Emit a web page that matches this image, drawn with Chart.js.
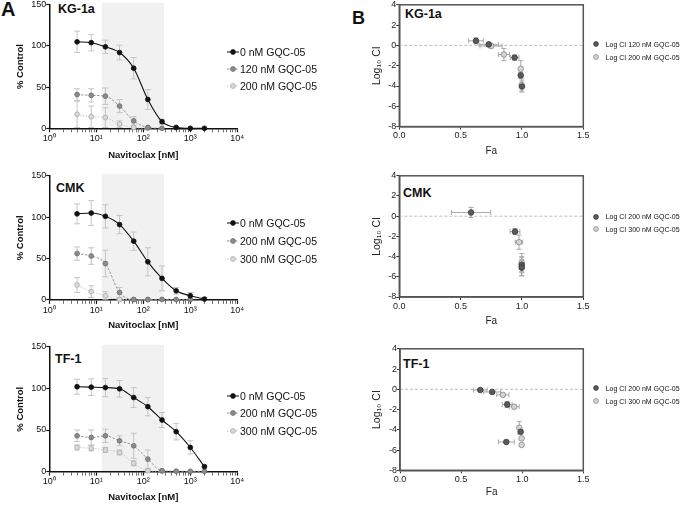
<!DOCTYPE html>
<html>
<head>
<meta charset="utf-8">
<script src="https://cdn.jsdelivr.net/npm/chart.js@4.4.0/dist/chart.umd.min.js"></script>
<style>
  body { margin: 0; width: 685px; height: 506px; background: #fff; position: relative; overflow: hidden;
         font-family: "Liberation Sans", Arial, sans-serif; color: #111; }
  canvas, .txt, .leg { position: absolute; }
  .txt { font-weight: bold; line-height: 1; white-space: nowrap; }
  .leg { display: flex; align-items: center; height: 12px; white-space: nowrap; }
  .leg svg { display: block; }
</style>
</head>
<body>
<div class="txt" style="left:1px;top:-1px;font-size:20px">A</div>
<div class="txt" style="left:352px;top:9px;font-size:18px">B</div>
<div class="txt" style="left:58px;top:3px;font-size:12.5px">KG-1a</div>
<div class="txt" style="left:56px;top:182px;font-size:12.5px">CMK</div>
<div class="txt" style="left:55px;top:353px;font-size:12.5px">TF-1</div>
<div class="txt" style="left:405px;top:8px;font-size:12.5px">KG-1a</div>
<div class="txt" style="left:403px;top:187px;font-size:12.5px">CMK</div>
<div class="txt" style="left:403px;top:358px;font-size:12.5px">TF-1</div>

<canvas id="doseKg"></canvas>
<canvas id="doseCmk"></canvas>
<canvas id="doseTf"></canvas>
<canvas id="ciKg"></canvas>
<canvas id="ciCmk"></canvas>
<canvas id="ciTf"></canvas>

<script>
// ---- A: dose response, % of control (mean, error = SD) ----
const doses = [3.9, 7.8, 15.6, 31.25, 62.5, 125, 250, 500, 1000, 2000];
const xDecades = [1, 10, 100, 1000, 10000];
const shadeRange = [13, 275];

const kgLabels = ['0 nM GQC-05', '120 nM GQC-05', '200 nM GQC-05'];
const kg0 = [105, 104, 99, 92, 73, 35, 8, 1, 0, 0];
const kg0Err = [13, 10, 8, 9, 13, 12, 3, 1, 0, 0];
const kg120 = [41, 40, 39, 27, 9, 1, 0];
const kg120Err = [7, 8, 10, 8, 5, 1, 0];
const kg200 = [17, 14, 13, 5, 1, 0];
const kg200Err = [16, 13, 12, 4, 1, 0];

const cmkLabels = ['0 nM GQC-05', '200 nM GQC-05', '300 nM GQC-05'];
const cmk0 = [104, 105, 101, 91, 71, 46, 26, 11, 5, 1];
const cmk0Err = [12, 15, 14, 11, 11, 17, 15, 4, 4, 2];
const cmk200 = [56, 53, 44, 9, 0.5, 0.5, 0.5, 0.5, 0.5];
const cmk200Err = [8, 10, 16, 6, 1, 0, 0, 0, 0];
const cmk300 = [18, 10, 5, 0.5, 0.3, 0.3];
const cmk300Err = [9, 7, 5, 1, 0, 0];

const tfLabels = ['0 nM GQC-05', '200 nM GQC-05', '300 nM GQC-05'];
const tf0 = [102, 101.5, 101, 99.5, 89, 78, 62, 48, 29, 6];
const tf0Err = [9, 10, 11, 10, 12, 11, 9, 10, 8, 2];
const tf200 = [43, 41, 43, 37, 31, 15, 1, 0.5, 0.3, 0.3];
const tf200Err = [7, 9, 8, 6, 15, 11, 1, 0, 0, 0];
const tf300 = [29, 28, 26, 23, 10, 1, 0.5];
const tf300Err = [3, 3, 3, 3, 3, 1, 0];

// ---- B: combination index (Fa vs log10 CI) ----
const kgCiLabels = ['Log CI 120 nM GQC-05', 'Log CI 200 nM GQC-05'];
const kgFa120 = [0.625, 0.729, 0.94, 0.99, 1.0];
const kgFa120Err = [0.06, 0.08, 0.035, 0.005, 0.004];
const kgCi120 = [0.45, 0.1, -1.2, -2.95, -4.05];
const kgCi120Err = [0.3, 0.2, 0.25, 0.3, 0.55];
const kgFa200 = [0.748, 0.853, 0.99, 0.997];
const kgFa200Err = [0.09, 0.045, 0.01, 0.004];
const kgCi200 = [-0.06, -0.9, -2.3, -3.9];
const kgCi200Err = [0.2, 0.6, 0.8, 0.6];

const cmkCiLabels = ['Log CI 200 nM GQC-05', 'Log CI 300 nM GQC-05'];
const cmkFa200 = [0.585, 0.943, 0.998, 0.998];
const cmkFa200Err = [0.16, 0.04, 0.008, 0.008];
const cmkCi200 = [0.37, -1.53, -4.8, -5.1];
const cmkCi200Err = [0.5, 0.3, 0.8, 0.8];
const cmkFa300 = [0.976, 0.998, 0.998];
const cmkFa300Err = [0.03, 0.008, 0.008];
const cmkCi300 = [-2.57, -4.6, -5.0];
const cmkCi300Err = [0.7, 0.9, 0.9];

const tfCiLabels = ['Log CI 200 nM GQC-05', 'Log CI 300 nM GQC-05'];
const tfFa200 = [0.657, 0.755, 0.877, 0.987, 0.87];
const tfFa200Err = [0.055, 0.07, 0.04, 0.01, 0.065];
const tfCi200 = [-0.07, -0.26, -1.5, -4.2, -5.2];
const tfCi200Err = [0.15, 0.15, 0.3, 0.2, 0.1];
const tfFa300 = [0.842, 0.935, 0.976, 0.995, 0.995];
const tfFa300Err = [0.05, 0.04, 0.01, 0.005, 0.005];
const tfCi300 = [-0.55, -1.72, -3.8, -4.85, -5.5];
const tfCi300Err = [0.15, 0.2, 0.6, 0.1, 0.1];

Chart.defaults.font.family = '"Liberation Sans", Arial, sans-serif';
Chart.defaults.color = '#111';
Chart.defaults.animation = false;

// styles: solid black / dashed mid gray / dotted light gray
const doseStyles = [
  { line: '#111', dash: [], width: 1.1, fill: '#111', border: '#111' },
  { line: '#8c8c8c', dash: [2.5, 1.5], width: 0.9, fill: '#8c8c8c', border: '#6a6a6a' },
  { line: '#c4c4c4', dash: [1.5, 1.5], width: 0.9, fill: '#dadada', border: '#a8a8a8' }
];
const ciStyles = [
  { fill: '#5a5a5a', border: '#3a3a3a' },
  { fill: '#d4d4d4', border: '#8a8a8a' }
];

const SUP = ['⁰', '¹', '²', '³', '⁴'];

// shaded concentration window behind the dose curves
const shadeBand = {
  id: 'shadeBand',
  beforeDraw(chart, args, opts) {
    if (!opts.range) return;
    const { ctx, chartArea: a, scales: { x } } = chart;
    const x0 = x.getPixelForValue(opts.range[0]);
    const x1 = x.getPixelForValue(opts.range[1]);
    ctx.save();
    ctx.fillStyle = opts.color;
    ctx.fillRect(x0, a.top - 2, x1 - x0, a.bottom - a.top + 2);
    ctx.restore();
  }
};

// box + dashed reference line for the CI plots
const ciFrame = {
  id: 'ciFrame',
  beforeDatasetsDraw(chart, args, opts) {
    const { ctx, chartArea: a, scales: { y } } = chart;
    const y0 = y.getPixelForValue(opts.refValue);
    ctx.save();
    ctx.strokeStyle = opts.refColor;
    ctx.lineWidth = 1;
    ctx.setLineDash([3, 2]);
    ctx.beginPath(); ctx.moveTo(a.left, y0); ctx.lineTo(a.right, y0); ctx.stroke();
    ctx.setLineDash([]);
    ctx.strokeStyle = opts.color;
    ctx.lineWidth = 1.5;
    ctx.strokeRect(a.left, a.top, a.right - a.left, a.bottom - a.top);
    ctx.restore();
  }
};

// x/y error bars read from dataset.xErr / dataset.yErr
const errorBars = {
  id: 'errorBars',
  beforeDatasetsDraw(chart, args, opts) {
    const { ctx, chartArea: a, scales: { x, y } } = chart;
    const cap = opts.cap;
    ctx.save();
    ctx.beginPath();
    ctx.rect(a.left - 6, a.top - 6, a.right - a.left + 12, a.bottom - a.top + 6);
    ctx.clip();
    ctx.strokeStyle = opts.color;
    ctx.lineWidth = 1;
    chart.data.datasets.forEach(ds => {
      ds.data.forEach((p, j) => {
        const px = x.getPixelForValue(p.x), py = y.getPixelForValue(p.y);
        const ye = ds.yErr ? ds.yErr[j] : 0;
        const xe = ds.xErr ? ds.xErr[j] : 0;
        ctx.beginPath();
        if (ye) {
          const t = y.getPixelForValue(p.y + ye), b = y.getPixelForValue(p.y - ye);
          ctx.moveTo(px, t); ctx.lineTo(px, b);
          ctx.moveTo(px - cap, t); ctx.lineTo(px + cap, t);
          ctx.moveTo(px - cap, b); ctx.lineTo(px + cap, b);
        }
        if (xe) {
          const l = x.getPixelForValue(p.x - xe), r = x.getPixelForValue(p.x + xe);
          ctx.moveTo(l, py); ctx.lineTo(r, py);
          ctx.moveTo(l, py - cap); ctx.lineTo(l, py + cap);
          ctx.moveTo(r, py - cap); ctx.lineTo(r, py + cap);
        }
        ctx.stroke();
      });
    });
    ctx.restore();
  }
};

function place(id, left, top, w, h) {
  const c = document.getElementById(id);
  c.width = w; c.height = h;
  c.style.left = left + 'px';
  c.style.top = top + 'px';
  return c;
}

// pin an axis box to a fixed size so the plot area lands where the figure has it
function fixedAxis(size) {
  return scale => {
    if (scale.isHorizontal()) scale.height = size; else scale.width = size;
    scale.paddingTop = scale.paddingBottom = scale.paddingLeft = scale.paddingRight = 0;
  };
}

function isDecade(v) {
  const e = Math.log10(v);
  return Math.abs(e - Math.round(e)) < 1e-6;
}

function addLegend(x, rows, labels, swatch, fontSize, gap) {
  labels.forEach((label, i) => {
    const d = document.createElement('div');
    d.className = 'leg';
    d.style.left = x + 'px';
    d.style.top = (rows[i] - 6) + 'px';
    d.style.fontSize = fontSize + 'px';
    d.innerHTML = swatch(i) + '<span style="margin-left:' + gap + 'px">' + label + '</span>';
    document.body.appendChild(d);
  });
}

function doseChart(id, area, canvasTop, canvasBottom, labels, values, errs, legendRows) {
  const width = 245, padLeft = 15;
  const c = place(id, 0, canvasTop, width, canvasBottom - canvasTop);
  const minorTicks = [];
  for (let k = 0; k < 4; k++) for (let m = 2; m <= 9; m++) minorTicks.push(m * Math.pow(10, k));
  const allTicks = xDecades.concat(minorTicks).sort((a, b) => a - b);

  const datasets = labels.map((label, i) => ({
    label,
    data: values[i].map((v, j) => ({ x: doses[j], y: v })),
    yErr: errs[i],
    borderColor: doseStyles[i].line,
    borderDash: doseStyles[i].dash,
    borderWidth: doseStyles[i].width,
    pointBackgroundColor: doseStyles[i].fill,
    pointBorderColor: doseStyles[i].border,
    pointBorderWidth: 0.8,
    pointRadius: 2.4,
    cubicInterpolationMode: 'monotone',
    clip: false
  }));

  new Chart(c, {
    type: 'line',
    data: { datasets },
    options: {
      responsive: false,
      animation: false,
      layout: { padding: { left: padLeft, top: area.t - canvasTop, right: width - area.r, bottom: 0 } },
      plugins: {
        legend: { display: false },
        tooltip: { enabled: false },
        shadeBand: { range: shadeRange, color: '#f1f1f1' },
        errorBars: { color: '#c4c4c4', cap: 3 }
      },
      scales: {
        x: {
          type: 'logarithmic', min: 1, max: 10000,
          afterFit: fixedAxis(canvasBottom - area.b),
          afterBuildTicks: s => { s.ticks = allTicks.map(v => ({ value: v })); },
          grid: { drawOnChartArea: false, tickLength: 4, tickColor: '#111',
                  tickWidth: ctx => (ctx.tick && isDecade(ctx.tick.value) ? 1.2 : 0.6) },
          border: { color: '#111', width: 1.5 },
          ticks: { autoSkip: false, maxRotation: 0, padding: 1, font: { size: 9 }, color: '#111',
                   callback: v => (isDecade(v) ? '10' + SUP[Math.round(Math.log10(v))] : '') },
          title: { display: true, text: 'Navitoclax [nM]', font: { size: 9.5, weight: 'bold' },
                   color: '#111', padding: { top: 0, bottom: 2 } }
        },
        y: {
          min: 0, max: 150,
          afterFit: fixedAxis(area.l - padLeft),
          grid: { drawOnChartArea: false, tickLength: 3, tickColor: '#111', tickWidth: 1.2 },
          border: { color: '#111', width: 1.5 },
          ticks: { stepSize: 50, padding: 0, font: { size: 9 }, color: '#111' },
          title: { display: true, text: '% Control', font: { size: 9.5, weight: 'bold' },
                   color: '#111', padding: { top: 0, bottom: 0 } }
        }
      }
    },
    plugins: [shadeBand, errorBars]
  });

  addLegend(227, legendRows, labels, i => {
    const s = doseStyles[i];
    return '<svg width="12" height="10"><line x1="0" y1="5" x2="12" y2="5" stroke="' + s.line +
      '" stroke-width="1" stroke-dasharray="' + s.dash.join(',') + '"/><circle cx="6" cy="5" r="2.4" fill="' +
      s.fill + '" stroke="' + s.border + '" stroke-width="0.8"/></svg>';
  }, 10.5, 1);
}

function ciChart(id, area, canvasTop, canvasBottom, labels, fa, faErr, ci, ciErr, legendRows) {
  const left = 365, width = 230, padLeft = 6;
  const c = place(id, left, canvasTop, width, canvasBottom - canvasTop);
  const datasets = labels.map((label, i) => ({
    label,
    data: fa[i].map((f, j) => ({ x: f, y: ci[i][j] })),
    xErr: faErr[i],
    yErr: ciErr[i],
    showLine: false,
    pointBackgroundColor: ciStyles[i].fill,
    pointBorderColor: ciStyles[i].border,
    pointBorderWidth: 0.8,
    pointRadius: 2.8,
    clip: false
  }));

  new Chart(c, {
    type: 'scatter',
    data: { datasets },
    options: {
      responsive: false,
      animation: false,
      layout: { padding: { left: padLeft, top: area.t - canvasTop, right: left + width - area.r, bottom: 0 } },
      plugins: {
        legend: { display: false },
        tooltip: { enabled: false },
        ciFrame: { refValue: 0, refColor: '#bdbdbd', color: '#555' },
        errorBars: { color: '#aaa', cap: 2.5 }
      },
      scales: {
        x: {
          type: 'linear', min: 0, max: 1.5,
          afterFit: fixedAxis(canvasBottom - area.b),
          grid: { drawOnChartArea: false, tickLength: 3, tickColor: '#333', tickWidth: 1 },
          border: { color: '#555', width: 1.5 },
          ticks: { stepSize: 0.5, padding: 1, font: { size: 9 }, color: '#222', callback: v => v.toFixed(1) },
          title: { display: true, text: 'Fa', font: { size: 10 }, color: '#222', padding: { top: 0, bottom: 2 } }
        },
        y: {
          min: -8, max: 4,
          afterFit: fixedAxis(area.l - left - padLeft),
          grid: { drawOnChartArea: false, tickLength: 3, tickColor: '#333', tickWidth: 1 },
          border: { color: '#555', width: 1.5 },
          ticks: { stepSize: 2, padding: 0, font: { size: 9 }, color: '#222' },
          title: { display: true, text: 'Log₁₀ CI', font: { size: 10.5 }, color: '#222', padding: { top: 0, bottom: 0 } }
        }
      }
    },
    plugins: [ciFrame, errorBars]
  });

  addLegend(592.7, legendRows, labels, i => {
    const s = ciStyles[i];
    return '<svg width="6" height="6"><circle cx="3" cy="3" r="2.4" fill="' + s.fill +
      '" stroke="' + s.border + '" stroke-width="0.8"/></svg>';
  }, 7, 7);
}

doseChart('doseKg', { l: 49.3, t: 4.7, r: 237.3, b: 128.3 }, 0, 163,
  kgLabels, [kg0, kg120, kg200], [kg0Err, kg120Err, kg200Err], [52, 69, 86]);
doseChart('doseCmk', { l: 49.3, t: 176, r: 237.3, b: 300.3 }, 171.3, 333.4,
  cmkLabels, [cmk0, cmk200, cmk300], [cmk0Err, cmk200Err, cmk300Err], [223, 241, 258.7]);
doseChart('doseTf', { l: 49.3, t: 347, r: 237.3, b: 472 }, 342.3, 505.4,
  tfLabels, [tf0, tf200, tf300], [tf0Err, tf200Err, tf300Err], [396, 413, 431]);

ciChart('ciKg', { l: 399.3, t: 4, r: 583.3, b: 127.3 }, 0, 159.7,
  kgCiLabels, [kgFa120, kgFa200], [kgFa120Err, kgFa200Err], [kgCi120, kgCi200], [kgCi120Err, kgCi200Err], [44, 57]);
ciChart('ciCmk', { l: 399.3, t: 175.3, r: 583.3, b: 297.7 }, 171.3, 329.7,
  cmkCiLabels, [cmkFa200, cmkFa300], [cmkFa200Err, cmkFa300Err], [cmkCi200, cmkCi300], [cmkCi200Err, cmkCi300Err], [216.7, 229.3]);
ciChart('ciTf', { l: 400, t: 348, r: 583.3, b: 471 }, 344, 500.7,
  tfCiLabels, [tfFa200, tfFa300], [tfFa200Err, tfFa300Err], [tfCi200, tfCi300], [tfCi200Err, tfCi300Err], [388, 401]);
</script>
</body>
</html>
